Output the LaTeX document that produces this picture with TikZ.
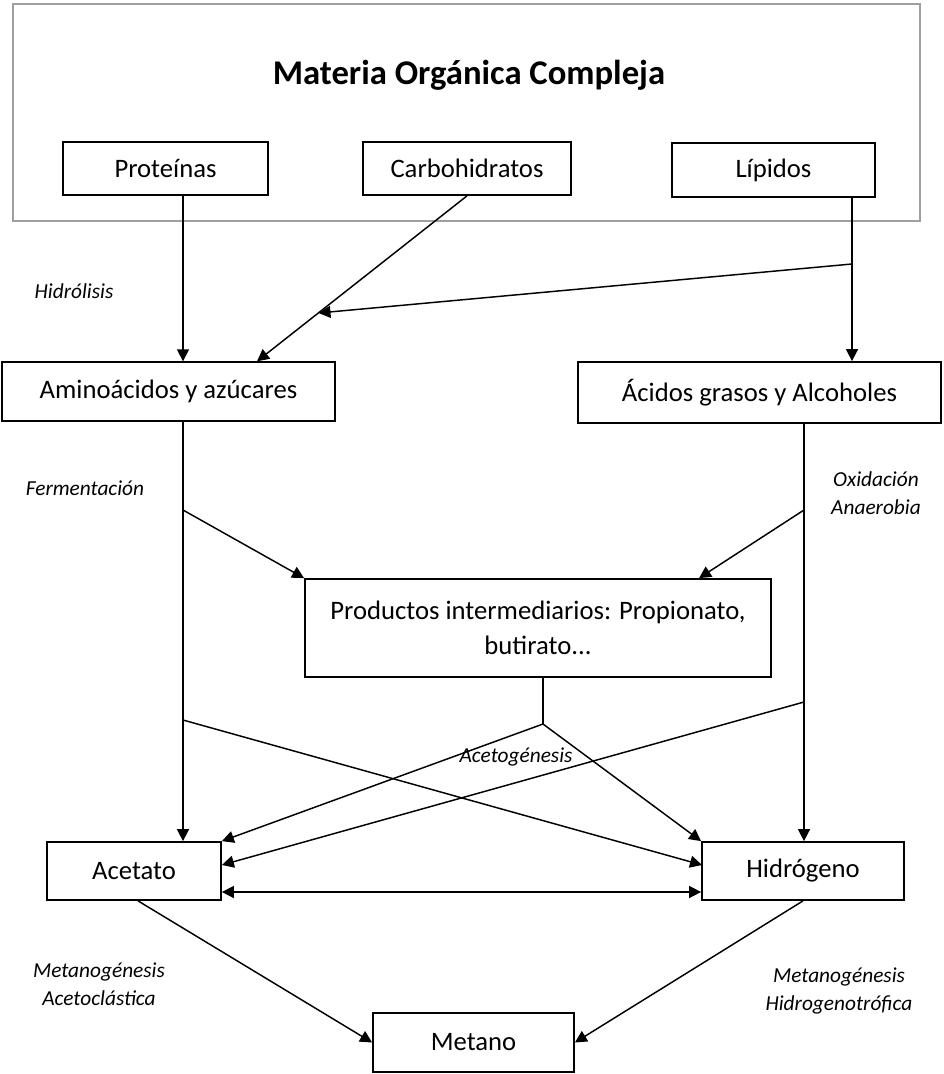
\documentclass[tikz,border=0pt]{standalone}
\usepackage{fontspec}
\setmainfont{Carlito}
\usetikzlibrary{arrows.meta}
\begin{document}
\begin{tikzpicture}
        [x=0.75pt, y=-0.75pt, line width=1.1pt, >={Triangle[length=9pt,width=9pt]},
        box/.style={rectangle, draw, line width=1.3pt, inner sep=0pt, font=\fontsize{20}{26}\selectfont, align=center},
        phase/.style={font=\fontsize{16}{21}\selectfont\itshape, align=center}]
        \useasboundingbox (0,0) rectangle (943,1074);
        % boxes
        \node[draw=gray!75, minimum width=680pt, minimum height=163pt] (mat) at (466.5,112.5) {};
        \node[font=\fontsize{26}{30}\selectfont\bfseries] (title) at (469,75) {Materia Orgánica Compleja};
        \node[box, minimum width=153.75pt, minimum height=39.75pt] (prot) at (165.5,168.5) {Proteínas};
        \node[box, minimum width=156pt, minimum height=39.75pt] (carb) at (467,168.5) {Carbohidratos};
        \node[box, minimum width=152pt, minimum height=40.5pt] (lip) at (773.5,170) {Lípidos};
        \node[box, minimum width=250pt, minimum height=44pt] (amino) at (168.5,391.5) {Aminoácidos y azúcares};
        \node[box, minimum width=272pt, minimum height=45.75pt] (acidos) at (759.5,392.5) {Ácidos grasos y Alcoholes};
        \node[box, minimum width=349.5pt, minimum height=73.5pt] (prod) at (538,628) {Productos intermediarios: Propionato,\\butirato...};
        \node[box, minimum width=130.5pt, minimum height=43.5pt] (acet) at (134,871) {Acetato};
        \node[box, minimum width=151.5pt, minimum height=43.5pt] (hidro) at (803,871) {Hidrógeno};
        \node[box, minimum width=150.75pt, minimum height=44pt] (met) at (473.5,1042.5) {Metano};

        % labels
        \node[phase] (hidr) at (74,291) {Hidrólisis};
        \node[phase] (ferm) at (85,488) {Fermentación};
        \node[phase] (oxid) at (876,493) {Oxidación\\Anaerobia};
        \node[phase] (aceto) at (516,757) {Acetogénesis};
        \node[phase] (macet) at (99,984) {Metanogénesis\\Acetoclástica};
        \node[phase] (mhidr) at (839,991) {Metanogénesis\\Hidrogenotrófica};

        % columns and branch points
        \coordinate (colL) at (183,0);
        \coordinate (colC) at (257,0);
        \coordinate (colLip) at (852,0);
        \coordinate (colR) at (804,0);
        \coordinate (colPr) at (699,0);
        \coordinate (colA) at (138,0);
        \coordinate (lipBr) at (852,264);
        \coordinate (carbMeet) at (318.5,313);
        \coordinate (fermBr) at (183,510);
        \coordinate (oxidBr) at (804,510);
        \coordinate (acetoBr) at (543,724);
        \coordinate (aminoBr) at (183,720);
        \coordinate (acidosBr) at (804,702);
        \coordinate (hidroIn) at (702,865);
        \coordinate (dbl) at (0,892);

        % hidrolisis
        \draw[->] (colL |- prot.south) -- (colL |- amino.north);
        \draw[->] (carb.south) -- (colC |- amino.north);
        \draw[->] (colLip |- lip.south) -- (colLip |- acidos.north);
        \draw[->] (lipBr) -- (carbMeet);

        % fermentacion y oxidacion
        \draw[->] (colL |- amino.south) -- (colL |- acet.north);
        \draw[->] (colR |- acidos.south) -- (colR |- hidro.north);
        \draw[->] (fermBr) -- (prod.north west);
        \draw[->] (oxidBr) -- (colPr |- prod.north);

        % acetogenesis
        \draw (prod.south -| acetoBr) -- (acetoBr);
        \draw[->] (acetoBr) -- (acet.north east);
        \draw[->] (acetoBr) -- (hidro.north west);
        \draw[->] (aminoBr) -- (hidroIn);
        \draw[->] (acidosBr) -- (acet.east |- hidroIn);
        \draw[<->] (acet.east |- dbl) -- (hidro.west |- dbl);

        % metanogenesis
        \draw[->] (colA |- acet.south) -- (met.west);
        \draw[->] (hidro.south) -- (met.east);
    \end{tikzpicture}
\end{document}
